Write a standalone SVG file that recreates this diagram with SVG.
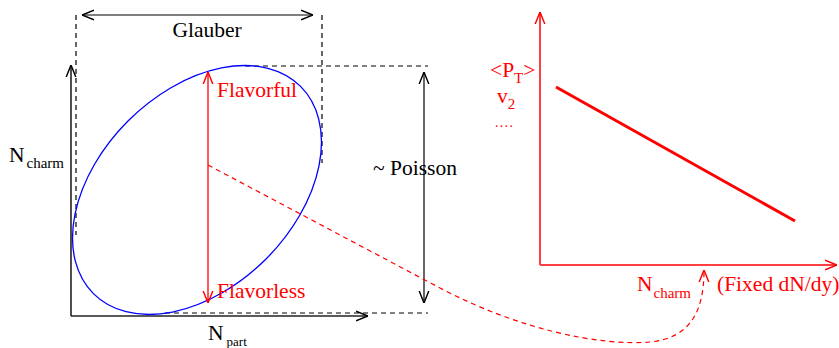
<svg xmlns="http://www.w3.org/2000/svg" width="839" height="348" viewBox="0 0 839 348">
<defs>
<style>
text{font-family:"Liberation Serif","Times New Roman",serif;}
.big{font-size:21.5px;}
.sub{font-size:15px;}
.k{fill:#000;}
.r{fill:#ff0000;}
.dash{fill:none;stroke:#000;stroke-width:1.2;stroke-dasharray:5,4;}
</style>
<marker id="ak" viewBox="0 0 10 10" refX="10" refY="5" markerWidth="12" markerHeight="12" markerUnits="userSpaceOnUse" orient="auto-start-reverse">
<path d="M0,1 L10,5 L0,9" fill="none" stroke="#000" stroke-width="1.2"/>
</marker>
<marker id="ar" viewBox="0 0 10 10" refX="10" refY="5" markerWidth="12" markerHeight="12" markerUnits="userSpaceOnUse" orient="auto-start-reverse">
<path d="M0,1 L10,5 L0,9" fill="none" stroke="#ff0000" stroke-width="1.2"/>
</marker>
</defs>
<rect width="839" height="348" fill="#fff"/>

<g id="left-axes">
<line x1="71" y1="316" x2="71" y2="65" stroke="#222" stroke-width="1.6" marker-end="url(#ak)"/>
<line x1="71" y1="316" x2="368" y2="316" stroke="#222" stroke-width="1.6" marker-end="url(#ak)"/>
</g>

<g id="guides">
<line class="dash" x1="76" y1="15" x2="76" y2="235"/>
<line class="dash" x1="322" y1="15" x2="322" y2="163"/>
<line class="dash" x1="245" y1="66" x2="428" y2="66"/>
<line class="dash" x1="165" y1="313" x2="428" y2="313"/>
</g>

<g id="ellipse">
<ellipse cx="197" cy="190" rx="146.5" ry="97.6" transform="rotate(-45 197 190)" fill="none" stroke="#0000ff" stroke-width="1.3"/>
</g>

<g id="connectors">
<line x1="82" y1="15" x2="313" y2="15" stroke="#000" stroke-width="1.2" marker-start="url(#ak)" marker-end="url(#ak)"/>
<line x1="424" y1="72" x2="424" y2="303" stroke="#000" stroke-width="1.2" marker-start="url(#ak)" marker-end="url(#ak)"/>
<line x1="208" y1="72" x2="208" y2="303" stroke="#ff0000" stroke-width="1.3" marker-start="url(#ar)" marker-end="url(#ar)"/>
<path d="M208,165 L440,288 C520,330 600,346 650,342 C690,338 704,312 704,270" fill="none" stroke="#ff0000" stroke-width="1.2" stroke-dasharray="5,4" marker-end="url(#ar)"/>
</g>

<g id="left-labels">
<text class="big k" x="207" y="37" text-anchor="middle">Glauber</text>
<text class="big k" x="373" y="175">~ Poisson</text>
<text class="big r" x="217" y="97">Flavorful</text>
<text class="big r" x="217" y="298">Flavorless</text>
<text class="big k" x="9" y="162">N<tspan class="sub" dx="2" dy="6">charm</tspan></text>
<text class="big k" x="208" y="340">N<tspan style="font-size:13px" dx="3" dy="6">part</tspan></text>
</g>

<g id="right-plot">
<line x1="540" y1="265" x2="540" y2="12" stroke="#ff4040" stroke-width="2" marker-end="url(#ar)"/>
<line x1="540" y1="265" x2="837" y2="265" stroke="#ff4040" stroke-width="2" marker-end="url(#ar)"/>
<line x1="556" y1="87" x2="795" y2="221" stroke="#ff0000" stroke-width="3"/>
</g>

<g id="right-labels">
<text class="big r" x="490" y="77">&lt;P<tspan class="sub" dy="6">T</tspan><tspan dy="-6">&gt;</tspan></text>
<text class="big r" x="497" y="103">v<tspan class="sub" dy="6">2</tspan></text>
<text class="r" style="font-size:14px;letter-spacing:1.3px" x="495" y="127">....</text>
<text class="big r" x="637" y="291">N<tspan class="sub" dx="1" dy="7">charm</tspan></text>
<text class="big r" x="717" y="291">(Fixed dN/dy)</text>
</g>
</svg>
